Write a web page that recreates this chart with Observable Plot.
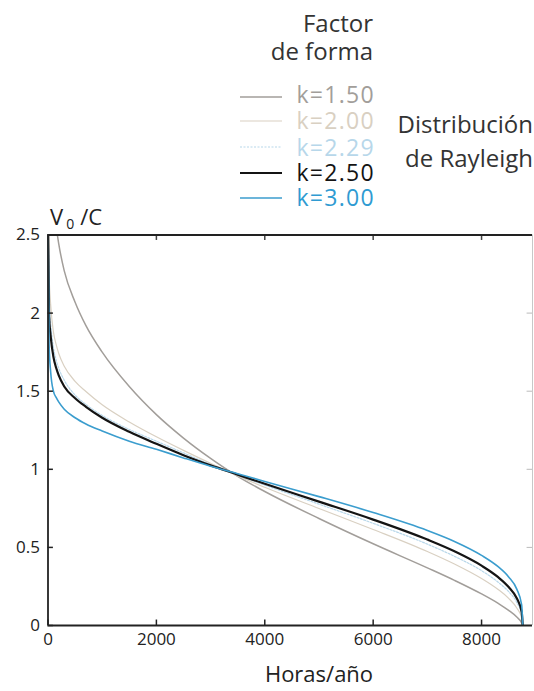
<!DOCTYPE html>
<html><head><meta charset="utf-8">
<script src="https://cdn.jsdelivr.net/npm/d3@7"></script>
<script src="https://cdn.jsdelivr.net/npm/@observablehq/plot@0.6"></script>
<style>
body{margin:0;background:#fff;}
#wrap{position:relative;width:534px;height:691px;font-family:"Open Sans",sans-serif;}
#wrap svg{position:absolute;left:0;top:0;}
</style></head><body><div id="wrap"></div>
<script>
// hours per year (x) and V0/C values
const hours = [0, 20, 50, 100, 150, 200, 300, 500, 700, 1000, 1500, 2000, 2500, 3000, 3500, 4000, 5000, 6000, 7000, 7500, 8000, 8300, 8500, 8650, 8740, 8760];
const k150 = [4.5, 3.4, 3.0, 2.74, 2.56, 2.44, 2.27, 2.07, 1.92, 1.75, 1.53, 1.35, 1.2, 1.07, 0.955, 0.858, 0.685, 0.523, 0.369, 0.289, 0.202, 0.143, 0.097, 0.054, 0.017, 0];
const k200 = [3.0, 2.25, 2.05, 1.88, 1.80, 1.74, 1.66, 1.563, 1.498, 1.413, 1.303, 1.208, 1.121, 1.038, 0.958, 0.885, 0.749, 0.615, 0.474, 0.394, 0.301, 0.232, 0.174, 0.112, 0.048, 0];
const k229 = [2.8, 2.08, 1.93, 1.78, 1.70, 1.645, 1.57, 1.475, 1.415, 1.345, 1.255, 1.18, 1.105, 1.03, 0.963, 0.899, 0.777, 0.654, 0.521, 0.443, 0.351, 0.279, 0.217, 0.148, 0.070, 0];
const k250 = [2.6, 1.98, 1.85, 1.72, 1.65, 1.6, 1.53, 1.455, 1.40, 1.33, 1.24, 1.163, 1.09, 1.025, 0.966, 0.907, 0.793, 0.678, 0.550, 0.475, 0.383, 0.311, 0.246, 0.174, 0.088, 0];
const k300 = [2.6, 1.8, 1.62, 1.5, 1.46, 1.43, 1.385, 1.33, 1.29, 1.245, 1.18, 1.128, 1.073, 1.02, 0.972, 0.922, 0.825, 0.723, 0.608, 0.538, 0.449, 0.378, 0.311, 0.233, 0.132, 0];
const seriesLabels = ["k=1.50", "k=2.00", "k=2.29", "k=2.50", "k=3.00"];
const xTicks = [0, 2000, 4000, 6000, 8000];
const yTicks = [0, 0.5, 1, 1.5, 2, 2.5];

const styles = [
  {color: "#a29e9a", text: "#a29e9a", width: 1.5, dash: null},
  {color: "#d9d0c2", text: "#d9d0c2", width: 1.2, dash: null},
  {color: "#b7d7ea", text: "#b7d7ea", width: 1.2, dash: "2,1.5"},
  {color: "#141414", text: "#141414", width: 2.2, dash: null},
  {color: "#3b9dce", text: "#2f9bd2", width: 1.6, dash: null}
];
const values = [k150, k200, k229, k250, k300];
const rows = seriesLabels.map((k, si) => hours.map((h, i) => ({k, h, v: values[si][i]})));

const X1 = 8940;
const lineMarks = rows.map((r, si) => Plot.line(r, {
  x: "h", y: "v", stroke: styles[si].color, strokeWidth: styles[si].width,
  strokeDasharray: styles[si].dash, clip: true, curve: "monotone-x"
}));

const chart = Plot.plot({
  width: 534, height: 691,
  marginLeft: 47.5, marginRight: 2, marginTop: 234.5, marginBottom: 66,
  style: {fontFamily: "'Open Sans', sans-serif", fontSize: "17px", color: "#222", background: "#fff"},
  x: {domain: [0, X1], ticks: xTicks, tickSize: 0, tickPadding: 7, tickFormat: d => String(d), label: null},
  y: {domain: [0, 2.5], ticks: yTicks, tickSize: 0, tickPadding: 8, tickFormat: d => String(d), label: null},
  marks: [
    ...lineMarks,
    Plot.ruleX(xTicks, {y1: 0, y2: 0.035, stroke: "#222", strokeWidth: 1.5}),
    Plot.ruleX(xTicks, {y1: 2.5, y2: 2.465, stroke: "#444", strokeWidth: 1.5}),
    Plot.ruleY(yTicks, {x1: 0, x2: 100, stroke: "#222", strokeWidth: 1.5}),
    Plot.ruleY(yTicks, {x1: X1, x2: X1 - 100, stroke: "#bbb", strokeWidth: 1}),
    Plot.ruleX([X1], {stroke: "#c8c8c8", strokeWidth: 1}),
    Plot.ruleY([2.5], {stroke: "#222", strokeWidth: 1.8}),
    Plot.ruleY([0], {stroke: "#222", strokeWidth: 1.8}),
    Plot.ruleX([0], {stroke: "#222", strokeWidth: 1.8})
  ]
});
const wrap = document.getElementById("wrap");
wrap.appendChild(chart);

const svg = d3.select(chart);
// axis titles
const yt = svg.append("text").attr("x", 50).attr("y", 225).attr("text-anchor", "start")
  .attr("font-size", 22).attr("fill", "#222");
yt.append("tspan").text("V");
yt.append("tspan").attr("font-size", 14).attr("dy", 4).attr("dx", 3).text("0");
yt.append("tspan").attr("dy", -4).attr("dx", 6).text("/C");
svg.append("text").attr("x", 319).attr("y", 682).attr("text-anchor", "middle")
  .attr("font-size", 22).attr("fill", "#222").text("Horas/año");

// legend
const leg = d3.select(wrap).append("svg").attr("width", 534).attr("height", 215)
  .style("font-family", "'Open Sans', sans-serif");
leg.append("text").attr("x", 373).attr("y", 32).attr("text-anchor", "end").attr("font-size", 24).attr("fill", "#333").text("Factor");
leg.append("text").attr("x", 373).attr("y", 60).attr("text-anchor", "end").attr("font-size", 24).attr("fill", "#333").text("de forma");
const lineY = [97, 121, 147, 173, 198];
const textY = [103, 129, 156, 181, 206];
seriesLabels.forEach((lab, i) => {
  leg.append("line").attr("x1", 240).attr("x2", 282).attr("y1", lineY[i]).attr("y2", lineY[i])
    .attr("stroke", styles[i].color).attr("stroke-width", styles[i].width)
    .attr("stroke-dasharray", styles[i].dash);
  leg.append("text").attr("x", 375).attr("y", textY[i]).attr("text-anchor", "end")
    .attr("font-size", 23).attr("letter-spacing", 1.3).attr("fill", styles[i].text).text(lab);
});
leg.append("text").attr("x", 533).attr("y", 133).attr("text-anchor", "end").attr("font-size", 24).attr("fill", "#333").text("Distribución");
leg.append("text").attr("x", 533).attr("y", 167).attr("text-anchor", "end").attr("font-size", 24).attr("fill", "#333").text("de Rayleigh");
</script></body></html>
